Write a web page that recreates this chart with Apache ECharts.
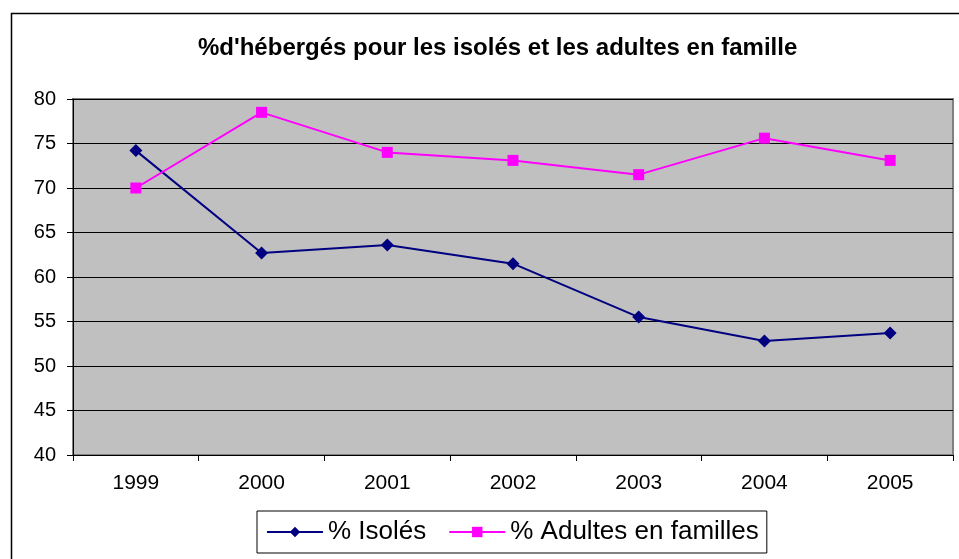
<!DOCTYPE html>
<html>
<head>
<meta charset="utf-8">
<script src="https://cdn.jsdelivr.net/npm/echarts@6/dist/echarts.min.js"></script>
<style>
    html, body { margin: 0; padding: 0; background: #fff; }
    #main { width: 959px; height: 559px; }
</style>
</head>
<body>
<div id="main"></div>
<script>
// données
var annees = ['1999', '2000', '2001', '2002', '2003', '2004', '2005'];
var isoles = [74.2, 62.7, 63.6, 61.5, 55.5, 52.8, 53.7];
var adultesFamilles = [70.0, 78.5, 74.0, 73.1, 71.5, 75.6, 73.1];
var yTicks = [40, 45, 50, 55, 60, 65, 70, 75, 80];

var police = '"Liberation Sans", Arial, sans-serif';
var chart = echarts.init(document.getElementById('main'));

var option = {
    backgroundColor: '#fff',
    animation: false,
    title: {
        text: "%d'hébergés pour les isolés et les adultes en famille",
        left: 193,
        top: 31,
        textStyle: {
            fontFamily: police,
            fontSize: 24,
            fontWeight: 'bold',
            color: '#000'
        }
    },
    graphic: [{
        type: 'rect',
        left: 9,
        top: 11,
        shape: { width: 970, height: 570 },
        style: { fill: 'none', stroke: '#000', lineWidth: 1.5 },
        silent: true
    }],
    legend: {
        left: 257,
        top: 511,
        padding: [8, 8, 8, 9],
        borderColor: '#000',
        borderWidth: 1,
        itemWidth: 56,
        itemHeight: 13,
        itemGap: 22,
        textStyle: { fontFamily: police, fontSize: 26, color: '#000' },
        data: ['% Isolés', '% Adultes en familles']
    },
    grid: {
        left: 73,
        right: 6,
        top: 99,
        bottom: 104,
        show: true,
        backgroundColor: '#C0C0C0',
        borderColor: '#808080',
        borderWidth: 2
    },
    xAxis: {
        type: 'category',
        data: annees,
        boundaryGap: true,
        axisLine: { lineStyle: { color: '#000', width: 1 } },
        axisTick: { show: true, length: 6, lineStyle: { color: '#000' } },
        axisLabel: { fontFamily: police, fontSize: 21, color: '#000', margin: 18 }
    },
    yAxis: {
        type: 'value',
        min: yTicks[0],
        max: yTicks[yTicks.length - 1],
        interval: 5,
        axisLine: { show: true, lineStyle: { color: '#000', width: 1 } },
        axisTick: { show: true, length: 6, lineStyle: { color: '#000' } },
        axisLabel: { fontFamily: police, fontSize: 20, color: '#000', margin: 17 },
        splitLine: { show: true, lineStyle: { color: '#000', width: 1 } }
    },
    series: [{
        name: '% Isolés',
        type: 'line',
        data: isoles,
        symbol: 'diamond',
        symbolSize: 13,
        color: '#000080',
        lineStyle: { width: 2, color: '#000080' },
        itemStyle: { color: '#000080' }
    }, {
        name: '% Adultes en familles',
        type: 'line',
        data: adultesFamilles,
        symbol: 'rect',
        symbolSize: 11,
        color: '#FF00FF',
        lineStyle: { width: 2, color: '#FF00FF' },
        itemStyle: { color: '#FF00FF' }
    }]
};
chart.setOption(option);
</script>
</body>
</html>
